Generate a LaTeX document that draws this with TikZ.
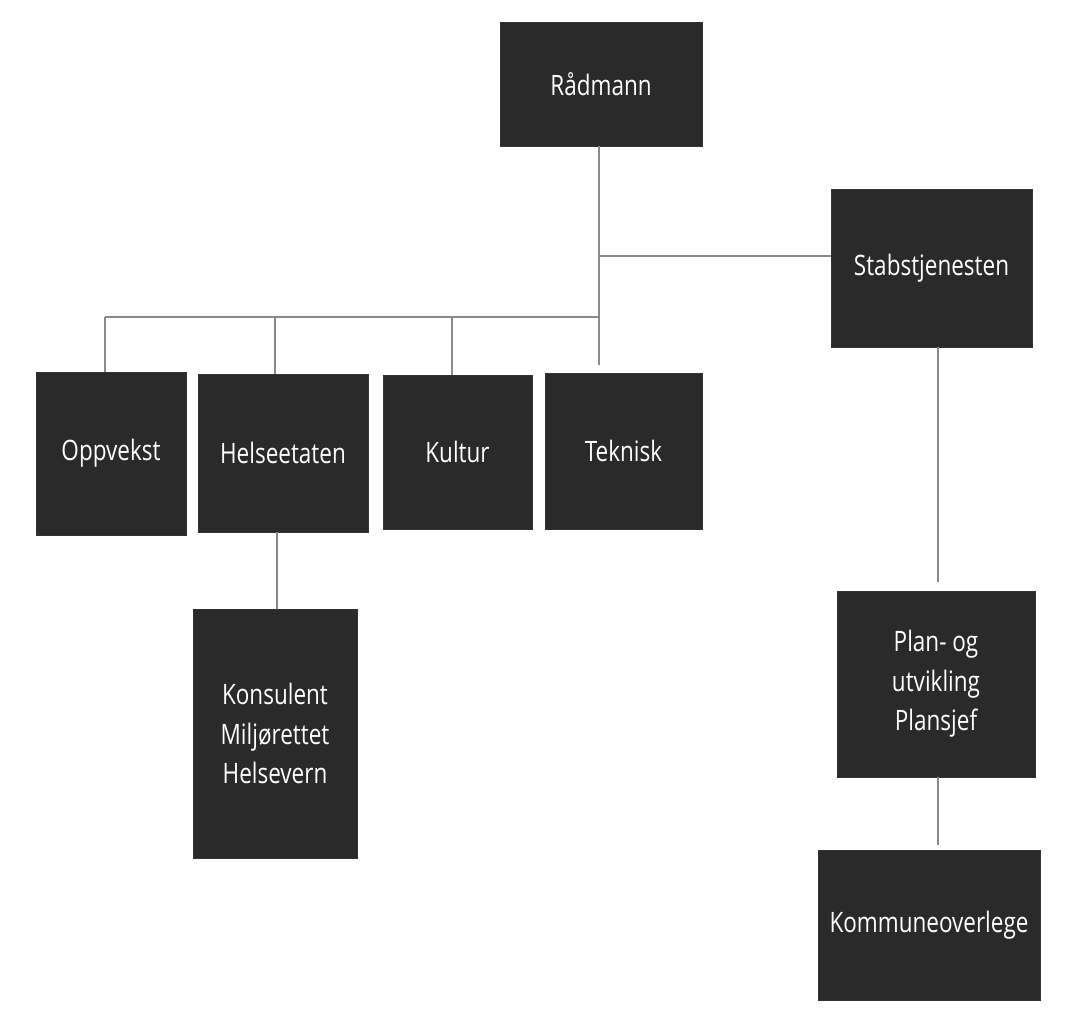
\documentclass[tikz,border=0pt]{standalone}
\usepackage{fontspec}
\setmainfont[FakeStretch=0.8]{Open Sans}
\definecolor{boxfill}{HTML}{2B2A2B}
\definecolor{linegray}{HTML}{8A8A8A}
\tikzset{
    orgbox/.style={draw=black!80, fill=boxfill, text=white, align=center,
        inner sep=0pt, font=\fontsize{20}{28}\selectfont},
    orgline/.style={draw=linegray, line width=1.2pt}
}

\begin{document}
\begin{tikzpicture}[x=0.025cm, y=-0.025cm]
    \useasboundingbox (0,0) rectangle (1067,1023);

    \node[orgbox, minimum width=5.05cm, minimum height=3.1cm] (radmann) at (601,84) {Rådmann};
    \node[orgbox, minimum width=5.025cm, minimum height=3.95cm] (stab) at (931.5,268) {Stabstjenesten};

    \node[orgbox, minimum width=3.75cm, minimum height=4.075cm] (oppvekst) at (111,453.5) {Oppvekst};
    \node[orgbox, minimum width=4.25cm, minimum height=3.95cm] (helse) at (283,453) {Helseetaten};
    \node[orgbox, minimum width=3.725cm, minimum height=3.85cm] (kultur) at (457.5,452) {Kultur};
    \node[orgbox, minimum width=3.925cm, minimum height=3.9cm] (teknisk) at (623.5,451) {Teknisk};

    \node[orgbox, minimum width=4.1cm, minimum height=6.225cm] (konsulent) at (275,733.5)
        {Konsulent\\Miljørettet\\Helsevern};
    \node[orgbox, minimum width=4.95cm, minimum height=4.65cm] (plan) at (936,684)
        {Plan- og\\utvikling\\Plansjef};
    \node[orgbox, minimum width=5.55cm, minimum height=3.75cm] (kommune) at (929,925) {Kommuneoverlege};

    % bus points
    \coordinate (stabjoin) at (599,256);
    \coordinate (trunk) at (599,317);
    \coordinate (busopp) at (105,317);
    \coordinate (bushelse) at (275,317);
    \coordinate (buskultur) at (452,317);
    \coordinate (trunkend) at (599,365);
    \coordinate (stabdown) at (938,582);
    \coordinate (plandown) at (938,845);

    % connectors
    \draw[orgline] (radmann.south -| trunk) -- (trunkend);
    \draw[orgline] (stabjoin) -- (stab.west |- stabjoin);
    \draw[orgline] (trunk) -- (busopp);
    \draw[orgline] (busopp) -- (busopp |- oppvekst.north);
    \draw[orgline] (bushelse) -- (bushelse |- helse.north);
    \draw[orgline] (buskultur) -- (buskultur |- kultur.north);
    \draw[orgline] (stab.south -| stabdown) -- (stabdown);
    \draw[orgline] ([xshift=0.05cm]helse.south -| bushelse) -- ([xshift=0.05cm]konsulent.north -| bushelse);
    \draw[orgline] (plan.south -| plandown) -- (plandown);
\end{tikzpicture}
\end{document}
